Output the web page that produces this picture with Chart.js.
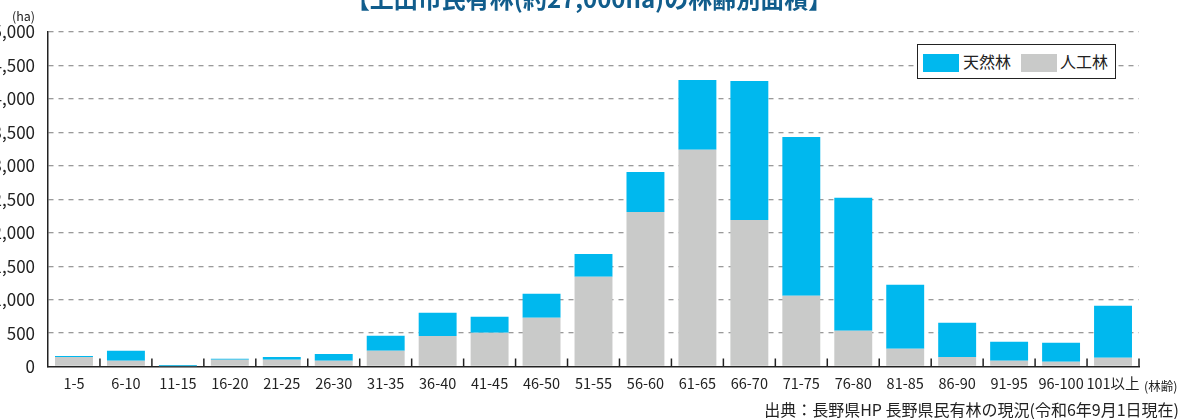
<!DOCTYPE html>
<html lang="ja">
<head>
<meta charset="utf-8">
<script src="https://cdn.jsdelivr.net/npm/chart.js@4.4.1/dist/chart.umd.min.js"></script>
<style>
  html, body { margin: 0; padding: 0; background: #fff; overflow: hidden; }
  body { width: 1185px; height: 419px; position: relative; font-family: "Noto Sans CJK JP", sans-serif; }
  #wrap { position: absolute; left: -15px; top: 0; width: 1200px; height: 419px; }
  #legend {
    position: absolute; left: 917px; top: 44px; width: 197px; height: 33px;
    border: 1.5px solid #222; background: #fff;
    font-size: 16px; color: #222;
  }
  #legend .sw { position: absolute; top: 9px; width: 36px; height: 18px; }
  #legend .tx { position: absolute; top: 5px; line-height: 22px; }
</style>
</head>
<body>
<div id="wrap"><canvas id="chart-1"></canvas></div>
<div id="legend"></div>
<script>
const ageLabels = ["1-5", "6-10", "11-15", "16-20", "21-25", "26-30", "31-35", "36-40", "41-45", "46-50",
  "51-55", "56-60", "61-65", "66-70", "71-75", "76-80", "81-85", "86-90", "91-95", "96-100", "101以上"];
// 人工林 (ha)
const plantedArea = [142, 87, 5, 102, 100, 87, 236, 456, 505, 729, 1342, 2309, 3241, 2190, 1058, 535, 266, 142, 87, 72, 132];
// 天然林 (ha)
const naturalArea = [15, 149, 17, 15, 42, 100, 224, 348, 239, 359, 340, 598, 1042, 2078, 2372, 1987, 957, 513, 284, 284, 777];

const blue = "#00b8ee";
const gray = "#c9cac9";

Chart.defaults.font.family = '"Noto Sans CJK JP", "Noto Sans", sans-serif';
Chart.defaults.color = "#222";

// title (cut at top), unit labels and source note
const textPlugin = {
  id: "texts",
  afterDraw(chart) {
    const c = chart.ctx;
    c.save();
    c.fillStyle = "#115d8c";
    c.font = 'bold 24px "Noto Sans CJK JP"';
    c.textAlign = "center";
    c.textBaseline = "alphabetic";
    c.fillText("【上田市民有林(約27,000ha)の林齢別面積】", 604, 8);

    c.fillStyle = "#222";
    c.font = '12.5px "Noto Sans CJK JP"';
    c.textBaseline = "middle";
    c.textAlign = "left";
    c.fillText("(ha)", 27, 16);
    c.fillText("(林齢)", 1159, 386);

    c.font = '16px "Noto Sans CJK JP"';
    c.textAlign = "right";
    c.fillText("出典：長野県HP 長野県民有林の現況(令和6年9月1日現在)", 1194, 410);
    c.restore();
  }
};

// short inward tick marks between categories
const tickPlugin = {
  id: "boundaryTicks",
  afterDatasetsDraw(chart) {
    const x = chart.scales.x;
    const bottom = chart.chartArea.bottom;
    const c = chart.ctx;
    c.save();
    c.strokeStyle = "#222";
    c.lineWidth = 1.5;
    const n = ageLabels.length;
    for (let i = 0; i < n; i++) {
      let px;
      if (i < n - 1) px = (x.getPixelForTick(i) + x.getPixelForTick(i + 1)) / 2;
      else px = chart.chartArea.right;
      c.beginPath();
      c.moveTo(px, bottom);
      c.lineTo(px, bottom - 8);
      c.stroke();
    }
    c.restore();
  }
};

const chart = new Chart(document.getElementById("chart-1"), {
  type: "bar",
  data: {
    labels: ageLabels,
    datasets: [
      { label: "人工林", data: plantedArea, backgroundColor: gray, barPercentage: 0.73, categoryPercentage: 1 },
      { label: "天然林", data: naturalArea, backgroundColor: blue, barPercentage: 0.73, categoryPercentage: 1 },
    ],
  },
  options: {
    responsive: true,
    maintainAspectRatio: false,
    animation: { duration: 0 },
    layout: { padding: { top: 32, right: 46, bottom: 0, left: 0 } },
    plugins: {
      legend: { display: false },
      tooltip: { enabled: false },
    },
    scales: {
      x: {
        stacked: true,
        grid: { display: false, drawTicks: false },
        border: { display: true, color: "#222", width: 1.5 },
        ticks: { font: { size: 14.5 }, padding: 8, maxRotation: 0, autoSkip: false },
        afterFit(scale) { scale.height = 52.5; },
      },
      y: {
        stacked: true,
        min: 0,
        max: 5000,
        grid: {
          drawTicks: false,
          color: (ctx) => (ctx.tick && ctx.tick.value === 0 ? "rgba(0,0,0,0)" : "#9a9a9a"),
          lineWidth: 1.3,
        },
        border: { display: true, color: "#222", width: 1.5, dash: [5, 5] },
        ticks: {
          stepSize: 500,
          font: { size: 17 },
          padding: 13,
          callback: (v) => v.toLocaleString("en-US"),
        },
        afterFit(scale) { scale.width = 63; },
      },
    },
  },
  plugins: [textPlugin, tickPlugin],
});

// legend box, in the order shown in the original
const legendEl = document.getElementById("legend");
const legendPos = [[5, 45], [103, 142]];
[chart.data.datasets[1], chart.data.datasets[0]].forEach((ds, i) => {
  const sw = document.createElement("span");
  sw.className = "sw";
  sw.style.left = legendPos[i][0] + "px";
  sw.style.background = ds.backgroundColor;
  const tx = document.createElement("span");
  tx.className = "tx";
  tx.style.left = legendPos[i][1] + "px";
  tx.textContent = ds.label;
  legendEl.appendChild(sw);
  legendEl.appendChild(tx);
});
</script>
</body>
</html>
